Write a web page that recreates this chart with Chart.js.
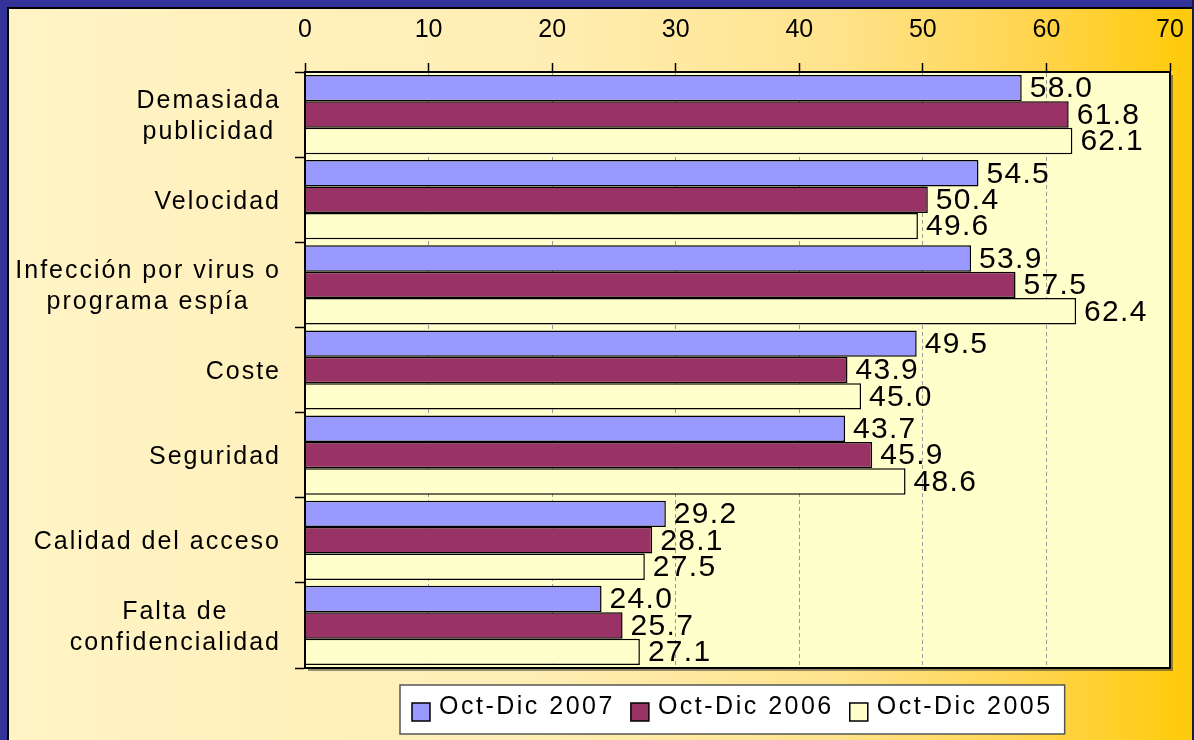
<!DOCTYPE html>
<html>
<head>
<meta charset="utf-8">
<script src="https://cdn.jsdelivr.net/npm/chart.js@4"></script>
<style>
  html, body { margin: 0; padding: 0; background: #fff; }
  canvas { display: block; }
</style>
</head>
<body>
<canvas id="chart" width="1194" height="740"></canvas>
<script>
// Categories (multi-line labels) and series values
const categories = [
    ['Demasiada', 'publicidad'],
    ['Velocidad'],
    ['Infección por virus o', 'programa espía'],
    ['Coste'],
    ['Seguridad'],
    ['Calidad del acceso'],
    ['Falta de', 'confidencialidad']
];
const seriesNames = ['Oct-Dic 2007', 'Oct-Dic 2006', 'Oct-Dic 2005'];
const values2007 = [58.0, 54.5, 53.9, 49.5, 43.7, 29.2, 24.0];
const values2006 = [61.8, 50.4, 57.5, 43.9, 45.9, 28.1, 25.7];
const values2005 = [62.1, 49.6, 62.4, 45.0, 48.6, 27.5, 27.1];
const xTicks = [0, 10, 20, 30, 40, 50, 60, 70];

const FONT = "'Liberation Sans', Arial, sans-serif";
const seriesColors = ['#9999FF', '#993366', '#FFFFCC'];

// Background, frame and plot area fill
const backgroundPlugin = {
    id: 'background',
    beforeDraw(chart) {
        const ctx = chart.ctx;
        const w = chart.width, h = chart.height;
        const a = chart.chartArea;
        ctx.save();
        const g = ctx.createLinearGradient(0, 0, w, 0);
        g.addColorStop(0, '#FFF4C6');
        g.addColorStop(0.45, '#FFEEB4');
        g.addColorStop(0.7, '#FFE38C');
        g.addColorStop(0.86, '#FFD550');
        g.addColorStop(1, '#FFCA08');
        ctx.fillStyle = g;
        ctx.fillRect(0, 0, w, h);
        // blue frame top / left
        ctx.fillStyle = '#333399';
        ctx.fillRect(0, 0, w, 7);
        ctx.fillRect(0, 0, 7, h);
        ctx.fillStyle = '#000';
        ctx.fillRect(7, 7, w - 7, 2);
        ctx.fillRect(7, 7, 2, h - 7);
        ctx.fillStyle = '#1a1a40';
        ctx.fillRect(w - 2, 0, 2, h);
        // plot area shadow + fill
        ctx.fillStyle = 'rgba(60,60,60,0.55)';
        ctx.fillRect(a.left + 3, a.top + 3, a.right - a.left, a.bottom - a.top);
        ctx.fillStyle = '#FFFFCC';
        ctx.fillRect(a.left, a.top, a.right - a.left, a.bottom - a.top);
        ctx.restore();
    },
    afterDraw(chart) {
        const ctx = chart.ctx;
        const a = chart.chartArea;
        ctx.save();
        ctx.strokeStyle = '#000';
        ctx.lineWidth = 2;
        ctx.strokeRect(a.left, a.top, a.right - a.left, a.bottom - a.top);
        ctx.restore();
    }
};

// Value labels at bar ends
const valueLabelPlugin = {
    id: 'valueLabels',
    afterDraw(chart) {
        const ctx = chart.ctx;
        ctx.save();
        ctx.font = '30px ' + FONT;
        ctx.letterSpacing = '1.3px';
        ctx.fillStyle = '#000';
        ctx.textAlign = 'left';
        ctx.textBaseline = 'middle';
        chart.data.datasets.forEach((ds, i) => {
            chart.getDatasetMeta(i).data.forEach((bar, j) => {
                ctx.fillText(ds.data[j].toFixed(1), bar.x + 8, bar.y + 1);
            });
        });
        ctx.restore();
    }
};

// Category labels: lines centred on each other, block right aligned
const categoryLabelPlugin = {
    id: 'categoryLabels',
    afterDraw(chart) {
        const ctx = chart.ctx;
        const yScale = chart.scales.y;
        const rightEdge = 281;
        const lineGap = 31;
        ctx.save();
        ctx.font = '25px ' + FONT;
        ctx.letterSpacing = '2px';
        ctx.fillStyle = '#000';
        ctx.textAlign = 'center';
        ctx.textBaseline = 'middle';
        chart.data.labels.forEach((lines, i) => {
            const yc = yScale.getPixelForValue(i);
            const maxW = Math.max(...lines.map(l => ctx.measureText(l).width));
            const cx = rightEdge - maxW / 2;
            const y0 = yc - (lines.length - 1) * lineGap / 2 + 2;
            lines.forEach((l, k) => ctx.fillText(l, cx, y0 + k * lineGap));
        });
        ctx.restore();
    }
};

// Legend box under the plot
const legendPlugin = {
    id: 'boxLegend',
    afterDraw(chart) {
        const ctx = chart.ctx;
        const a = chart.chartArea;
        ctx.save();
        ctx.font = '25px ' + FONT;
        ctx.letterSpacing = '2.5px';
        const sw = 18, gapText = 9, gapItem = 16, padX = 12;
        const widths = chart.data.datasets.map(ds => ctx.measureText(ds.label).width);
        let total = padX * 2;
        widths.forEach((tw, i) => { total += sw + gapText + tw + (i < widths.length - 1 ? gapItem : 0); });
        const boxTop = 685, boxH = 49;
        const boxLeft = Math.round((a.left + a.right) / 2 - total / 2) - 5;
        ctx.fillStyle = '#fff';
        ctx.fillRect(boxLeft, boxTop, total, boxH);
        ctx.strokeStyle = '#555';
        ctx.lineWidth = 1.5;
        ctx.strokeRect(boxLeft, boxTop, total, boxH);
        let x = boxLeft + padX;
        chart.data.datasets.forEach((ds, i) => {
            ctx.fillStyle = ds.backgroundColor;
            ctx.fillRect(x, 703, sw, sw);
            ctx.strokeStyle = '#000';
            ctx.lineWidth = 1.5;
            ctx.strokeRect(x, 703, sw, sw);
            ctx.fillStyle = '#000';
            ctx.textAlign = 'left';
            ctx.textBaseline = 'middle';
            ctx.fillText(ds.label, x + sw + gapText, 707);
            x += sw + gapText + widths[i] + gapItem;
        });
        ctx.restore();
    }
};

const ctx = document.getElementById('chart').getContext('2d');
new Chart(ctx, {
    type: 'bar',
    data: {
        labels: categories,
        datasets: [
            { label: seriesNames[0], data: values2007, backgroundColor: seriesColors[0] },
            { label: seriesNames[1], data: values2006, backgroundColor: seriesColors[1] },
            { label: seriesNames[2], data: values2005, backgroundColor: seriesColors[2] }
        ]
    },
    options: {
        indexAxis: 'y',
        responsive: false,
        animation: false,
        devicePixelRatio: 1,
        layout: { padding: { left: 0, top: 0, right: 24, bottom: 72 } },
        datasets: {
            bar: {
                borderColor: '#000',
                borderWidth: 1.5,
                categoryPercentage: 0.93,
                barPercentage: 1.0
            }
        },
        plugins: {
            legend: { display: false },
            tooltip: { enabled: false }
        },
        scales: {
            x: {
                position: 'top',
                min: xTicks[0],
                max: xTicks[xTicks.length - 1],
                afterBuildTicks: scale => { scale.ticks = xTicks.map(v => ({ value: v })); },
                afterFit: scale => {
                    scale.height = 72;
                    scale.paddingLeft = 0;
                    scale.paddingRight = 0;
                },
                ticks: {
                    color: '#000',
                    font: { family: FONT, size: 25 },
                    padding: 18,
                    maxRotation: 0
                },
                grid: {
                    color: '#9a9a9a',
                    lineWidth: 1,
                    tickColor: '#000',
                    tickLength: 9,
                    tickWidth: 1.5
                },
                border: { display: true, color: '#000', width: 2, dash: [4, 3] }
            },
            y: {
                afterFit: scale => {
                    scale.width = 305;
                    scale.paddingTop = 0;
                    scale.paddingBottom = 0;
                },
                ticks: { display: false },
                grid: {
                    drawOnChartArea: false,
                    tickColor: '#000',
                    tickLength: 10,
                    tickWidth: 1.5
                },
                border: { display: true, color: '#000', width: 2 }
            }
        }
    },
    plugins: [backgroundPlugin, valueLabelPlugin, categoryLabelPlugin, legendPlugin]
});
</script>
</body>
</html>
